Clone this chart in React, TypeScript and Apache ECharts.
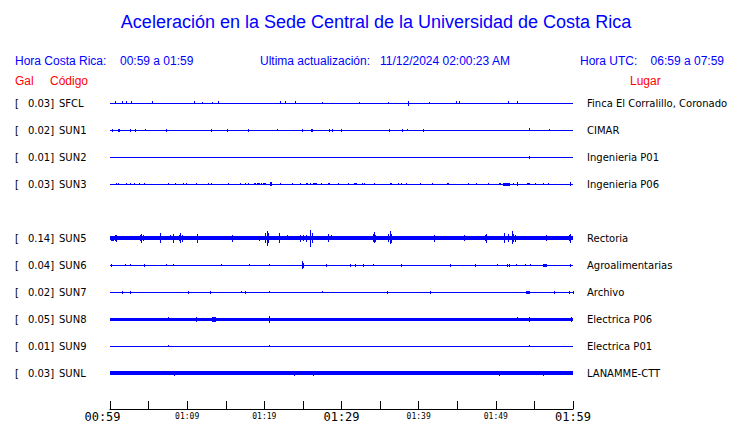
import React, { useEffect, useRef } from "react";
import * as echarts from "echarts";

const TITLE = "Aceleración en la Sede Central de la Universidad de Costa Rica";
const HEADER_CR = ["Hora Costa Rica:", "00:59 a 01:59"];
const HEADER_UPD = ["Ultima actualización:", "11/12/2024 02:00:23 AM"];
const HEADER_UTC = ["Hora UTC:", "06:59 a 07:59"];
const COL_HEADERS = ["Gal", "Código", "Lugar"];

// minutes after 00:59 and their labels
const TICK_MINUTES = [0, 10, 20, 30, 40, 50, 60];
const TICK_LABELS = ["00:59", "01:09", "01:19", "01:29", "01:39", "01:49", "01:59"];
const BIG_TICKS = ["00:59", "01:29", "01:59"];

// one row per station (row 4 is an empty slot)
const CODES = ["SFCL", "SUN1", "SUN2", "SUN3", "", "SUN5", "SUN6", "SUN7", "SUN8", "SUN9", "SUNL"];
const GALS = ["0.03", "0.02", "0.01", "0.03", "", "0.14", "0.04", "0.02", "0.05", "0.01", "0.03"];
const PLACES = [
  "Finca El Corralillo, Coronado",
  "CIMAR",
  "Ingenieria P01",
  "Ingenieria P06",
  "",
  "Rectoria",
  "Agroalimentarias",
  "Archivo",
  "Electrica P06",
  "Electrica P01",
  "LANAMME-CTT",
];
// background trace half-thickness (amplitude units)
const BASE = [0.5, 0.5, 0.5, 0.5, 0, 1.8, 0.5, 0.5, 1.5, 0.5, 1.8];

// bursts: [minute, half amplitude, duration in minutes]
const SFCL = [[0.65, 1.7], [1.6, 1.7], [2.1, 1.7], [2.8, 1.7], [5.5, 1.7], [11.0, 1.7], [12.0, 1], [13.3, 1], [14.0, 1.7], [22.1, 1.7], [22.8, 1.7], [24.1, 1.7], [27.6, 1], [32.3, 1], [36.1, 1], [38.7, 2.5, 0.15], [41.4, 1.2], [44.9, 1.7], [45.3, 1.7], [51.6, 1.7], [52.8, 1.7]];
const SUN1 = [[0.35, 1.5], [1.2, 1.4, 0.2], [2.6, 1.5], [3.3, 1.5], [4.6, 0.8], [7.3, 1.5], [13.1, 1.5], [15.2, 1.5], [17.9, 1.5], [21.7, 0.8], [24.9, 1.5], [26.1, 1.3], [26.3, 1.5], [28.4, 1.5], [28.8, 1.5], [30.0, 1.5], [36.2, 1.5], [37.9, 1.5], [38.5, 0.8], [40.6, 1.5], [54.4, 1.7], [56.9, 0.8]];
const SUN2 = [[54.3, 1.5]];
const SUN3 = [[0.86, 1.2, 0.15], [1.08, 1], [2.12, 1], [2.68, 1.2, 0.15], [3.2, 1], [3.8, 1], [4.45, 1.2], [7.6, 1.2, 0.15], [8.5, 1], [9.5, 1.2], [9.85, 1.2], [11.2, 1.2, 0.15], [12.8, 1.2, 0.15], [13.2, 1], [15.3, 0.8], [16.9, 0.8], [17.5, 1], [18.0, 1], [18.7, 1.2], [18.9, 1.2], [19.3, 1.2, 0.4], [19.6, 1], [20.0, 1.2, 0.4], [20.8, 2.2, 0.2], [22.1, 1.2], [23.6, 1], [24.7, 1], [25.5, 1.2, 0.3], [26.0, 1], [26.6, 1.2, 0.5], [27.4, 1], [28.3, 1.2], [28.5, 1], [29.6, 0.8], [30.9, 0.8], [31.8, 1.2, 0.4], [32.7, 1.2], [33.0, 1], [34.3, 1], [36.4, 1.2, 0.2], [37.4, 1], [37.8, 1.2], [38.4, 1], [40.2, 0.8], [41.8, 1], [43.7, 1], [43.9, 1], [46.5, 1.2], [47.5, 0.8], [49.1, 1.2], [50.5, 1.2, 0.2], [51.4, 1.3, 0.9], [52.3, 1], [52.8, 2, 0.1], [54.3, 1.2, 0.4], [55.2, 0.8], [56.2, 1], [56.8, 0.8], [59.7, 2, 0.15]];
const SUN5 = [[0.3, 2.3, 0.4], [0.86, 3.3, 0.1], [0.7, 2.8, 0.1], [2.8, 1.8], [4.0, 3, 0.1], [4.1, 4.3, 0.05], [4.3, 3, 0.1], [5.2, 1.8], [6.6, 5, 0.1], [7.8, 2.7], [8.2, 4.3, 0.1], [9.0, 3, 0.1], [9.2, 5, 0.05], [9.4, 3.5, 0.1], [11.3, 4.3, 0.1], [12.9, 2, 0.15], [13.2, 2, 0.1], [15.9, 3.3, 0.1], [18.0, 1.8], [19.4, 2.3], [20.2, 5, 0.1], [20.4, 7.3, 0.05], [20.6, 5, 0.1], [22.0, 5, 0.1], [23.0, 2.7], [24.2, 1.8], [24.7, 3.3, 0.1], [25.1, 3, 0.1], [25.4, 3.3, 0.05], [26.0, 8.3, 0.05], [26.2, 5, 0.1], [27.6, 1.8], [28.3, 4, 0.1], [28.7, 2.7], [33.6, 1.5], [34.1, 4, 0.1], [34.25, 5.7, 0.05], [34.4, 3.5, 0.1], [35.2, 2], [36.1, 4, 0.1], [36.3, 6.7, 0.05], [36.5, 4.5, 0.1], [37.2, 1.7], [42.1, 3.3, 0.1], [43.2, 1.4], [45.9, 3, 0.1], [47.5, 1.2], [48.7, 3, 0.1], [48.8, 4.3, 0.05], [50.1, 1.7], [51.1, 5, 0.1], [51.6, 4, 0.1], [52.1, 6.7, 0.05], [52.3, 4, 0.1], [52.6, 3.3, 0.1], [54.3, 1.7], [56.6, 3, 0.1], [57.7, 1.7], [59.5, 3, 0.1], [59.7, 4.3, 0.05]];
const SUN6 = [[0.17, 1.5, 0.1], [2.0, 1.2], [2.6, 0.8], [4.5, 1.3], [7.3, 0.8], [8.25, 1.2], [14.4, 1.2], [18.1, 1.2], [20.7, 1.2], [25.0, 2.5, 0.3], [25.0, 4, 0.05], [28.0, 1.3], [31.2, 1.3], [31.8, 1.3], [32.9, 1.5], [34.1, 0.8], [37.8, 1.3], [44.1, 1.3], [47.4, 1.3], [50.2, 0.8], [51.5, 1.5], [51.8, 1.5], [52.7, 1.2], [53.8, 1.2], [54.5, 0.8], [56.3, 1.5, 0.5], [59.7, 1.3]];
const SUN7 = [[1.6, 1.3, 0.15], [2.6, 1.3, 0.1], [10.2, 1.3, 0.1], [13.0, 1.3], [17.1, 0.8], [17.6, 1.3], [20.7, 0.8], [27.6, 1.2], [35.9, 1.3, 0.1], [41.5, 1.3], [54.2, 1.5, 0.5], [57.6, 1.3], [59.5, 1.3], [60.0, 1.3]];
const SUN8 = [[7.6, 2], [11.2, 2.7], [13.5, 2.7, 0.5], [20.7, 3.7], [52.8, 2], [54.4, 2.7], [59.8, 2.7]];
const SUN9 = [[7.6, 1], [20.7, 1], [54.4, 1]];
const SUNL = [[8.3, 2.3], [23.9, 2.5], [26.4, 2.3], [50.5, 2.5], [56.2, 2.3]];
const BURSTS = [SFCL, SUN1, SUN2, SUN3, [], SUN5, SUN6, SUN7, SUN8, SUN9, SUNL];

const SPAN_MIN = 60;
const AMP_PER_ROW = 27;
const BLUE = "#0000ff";
const RED = "#ff0000";

export default function App() {
  const ref = useRef<HTMLDivElement>(null);
  useEffect(() => {
    if (!ref.current) return;
    const chart = echarts.init(ref.current, null, { renderer: "svg" });

    const data: number[][] = [];
    BASE.forEach((b, row) => {
      if (b > 0) data.push([SPAN_MIN / 2, row, b, SPAN_MIN]);
    });
    BURSTS.forEach((list, row) => {
      list.forEach((s: number[]) => data.push([s[0], row, s[1], s[2] || 0]));
    });

    const rowLabel = (v: number) => {
      const i = Math.round(v);
      if (Math.abs(v - i) > 1e-6 || i < 0 || i >= CODES.length || !CODES[i]) return "";
      return `{b|[}{v|${GALS[i]}]}{n|${CODES[i]}}`;
    };
    const placeLabel = (v: number) => {
      const i = Math.round(v);
      if (Math.abs(v - i) > 1e-6 || i < 0 || i >= PLACES.length) return "";
      return PLACES[i];
    };
    const tickLabel = (v: number) => {
      const k = TICK_MINUTES.indexOf(Math.round(v));
      if (k < 0 || Math.abs(v - Math.round(v)) > 1e-6) return "";
      const lab = TICK_LABELS[k];
      if (k === 0) return `{first|${lab}}`;
      return BIG_TICKS.includes(lab) ? `{big|${lab}}` : `{small|${lab}}`;
    };

    const rowFont = { fontFamily: "DejaVu Sans", fontSize: 10, color: "#000" };
    const hdrFont = '12px "Liberation Sans", Arial, sans-serif';
    const txt = (text: string, x: number, y: number, fill: string, align = "left", font = hdrFont) => ({
      type: "text",
      x,
      y,
      silent: true,
      style: { text, fill, font, align, verticalAlign: "middle" },
    });

    const yMax = 10 + 35.7 / 27;
    const baseY = {
      type: "value",
      inverse: true,
      min: -1,
      max: yMax,
      interval: 1,
      axisLine: { show: false },
      axisTick: { show: false },
      splitLine: { show: false },
    };

    chart.setOption({
      animation: false,
      backgroundColor: "#fff",
      grid: { left: 110, right: 167, top: 76, bottom: 14, containLabel: false },
      xAxis: {
        type: "value",
        position: "bottom",
        min: 0,
        max: SPAN_MIN,
        interval: 5,
        axisLine: { show: true, onZero: false, lineStyle: { color: "#000", width: 1 } },
        axisTick: { show: true, inside: true, length: 8, lineStyle: { color: "#000", width: 1 } },
        splitLine: { show: false },
        axisLabel: {
          margin: 2,
          hideOverlap: false,
          showMinLabel: true,
          showMaxLabel: true,
          formatter: tickLabel,
          rich: {
            first: { fontFamily: "DejaVu Sans Mono", fontSize: 12, color: "#000", padding: [0, 15, 0, 0] },
            big: { fontFamily: "DejaVu Sans Mono", fontSize: 12, color: "#000" },
            small: { fontFamily: "DejaVu Sans Mono", fontSize: 8, color: "#000", padding: [1, 0, 0, 0] },
          },
        },
      },
      yAxis: [
        {
          ...baseY,
          position: "left",
          axisLabel: {
            margin: 95,
            align: "left",
            formatter: rowLabel,
            rich: {
              b: { ...rowFont, width: 12 },
              v: { ...rowFont, width: 28, align: "right" },
              n: { ...rowFont, padding: [0, 0, 0, 4] },
            },
          },
        },
        {
          ...baseY,
          position: "right",
          axisLabel: { margin: 14, align: "left", formatter: placeLabel, ...rowFont },
        },
      ],
      graphic: [
        txt(TITLE, 376, 22, BLUE, "center", '18px "Liberation Sans", Arial, sans-serif'),
        txt(HEADER_CR[0], 15, 61, BLUE),
        txt(HEADER_CR[1], 120, 61, BLUE),
        txt(HEADER_UPD[0], 260, 61, BLUE),
        txt(HEADER_UPD[1], 380, 61, BLUE),
        txt(HEADER_UTC[0], 580, 61, BLUE),
        txt(HEADER_UTC[1], 724, 61, BLUE, "right"),
        txt(COL_HEADERS[0], 15, 81, RED),
        txt(COL_HEADERS[1], 50, 81, RED),
        txt(COL_HEADERS[2], 630, 81, RED),
      ],
      series: [
        {
          type: "custom",
          clip: false,
          encode: { x: 0, y: 1 },
          data,
          renderItem: (params: any, api: any) => {
            const t = api.value(0);
            const row = api.value(1);
            const amp = api.value(2) / AMP_PER_ROW;
            const dur = api.value(3);
            const a = api.coord([t - dur / 2, row - amp]);
            const b = api.coord([t + dur / 2, row + amp]);
            let x0 = Math.min(a[0], b[0]);
            let w = Math.abs(b[0] - a[0]);
            if (w < 1) {
              x0 = (a[0] + b[0]) / 2 - 0.5;
              w = 1;
            }
            let y0 = Math.min(a[1], b[1]);
            let h = Math.abs(b[1] - a[1]);
            if (h < 1) {
              y0 = (a[1] + b[1]) / 2 - 0.5;
              h = 1;
            }
            return {
              type: "rect",
              shape: { x: Math.round(x0), y: Math.round(y0), width: Math.max(1, Math.round(w)), height: Math.max(1, Math.round(h)) },
              style: { fill: BLUE },
            };
          },
        },
      ],
    });
    return () => chart.dispose();
  }, []);
  return <div ref={ref} style={{ position: "fixed", left: 0, top: 0, width: 740, height: 423 }} />;
}
